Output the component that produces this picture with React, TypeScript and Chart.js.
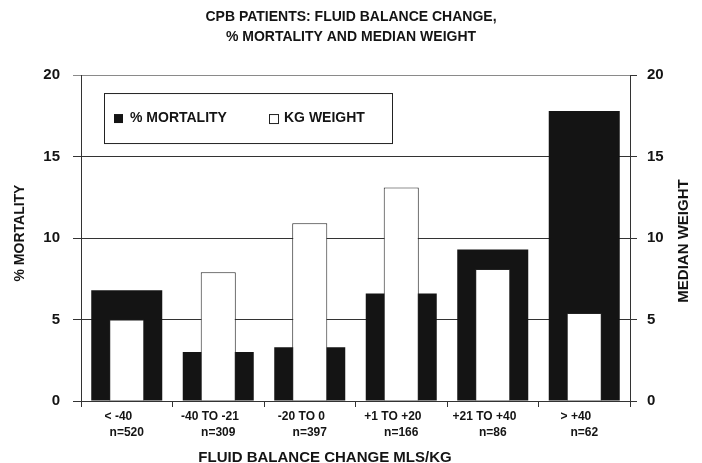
import React, { useEffect, useRef } from "react";
import { Chart, registerables } from "chart.js";

Chart.register(...registerables);

const categories = ["< -40", "-40 TO -21", "-20 TO 0", "+1 TO +20", "+21 TO +40", "> +40"];
const counts = ["n=520", "n=309", "n=397", "n=166", "n=86", "n=62"];
const mortality = [6.8, 3.0, 3.3, 6.6, 9.3, 17.8];
const weight = [5.0, 7.9, 10.9, 13.1, 8.1, 5.4];
const yTicks = [0, 5, 10, 15, 20];
const titleLines = ["CPB PATIENTS: FLUID BALANCE CHANGE,", "% MORTALITY AND MEDIAN WEIGHT"];
const legendLabels = ["% MORTALITY", "KG WEIGHT"];
const xTitle = "FLUID BALANCE CHANGE MLS/KG";
const yTitle = "% MORTALITY";
const y2Title = "MEDIAN WEIGHT";

const FONT = "Arial, 'Liberation Sans', sans-serif";
const INK = "#141414";

const decorPlugin = {
  id: "decor",
  afterDraw(chart: any) {
    const { ctx, chartArea } = chart;
    ctx.save();
    // legend box
    const x0 = chartArea.left + 23;
    const y0 = chartArea.top + 18;
    const w = 288;
    const h = 50;
    ctx.fillStyle = "#ffffff";
    ctx.fillRect(x0, y0, w, h);
    ctx.strokeStyle = "#222";
    ctx.lineWidth = 1;
    ctx.strokeRect(x0 + 0.5, y0 + 0.5, w, h);
    const cy = y0 + 25;
    ctx.fillStyle = INK;
    ctx.fillRect(x0 + 10, cy - 4, 9, 9);
    ctx.font = `bold 14px ${FONT}`;
    ctx.textBaseline = "middle";
    ctx.textAlign = "left";
    ctx.fillText(legendLabels[0], x0 + 26, cy);
    ctx.fillStyle = "#fff";
    ctx.fillRect(x0 + 165, cy - 4, 9, 9);
    ctx.strokeStyle = "#222";
    ctx.strokeRect(x0 + 165.5, cy - 3.5, 9, 9);
    ctx.fillStyle = INK;
    ctx.fillText(legendLabels[1], x0 + 180, cy);

    // axis titles
    const midY = (chartArea.top + chartArea.bottom) / 2;
    ctx.textAlign = "center";
    ctx.textBaseline = "middle";
    ctx.font = `bold 15px ${FONT}`;
    ctx.fillText(xTitle, chartArea.left + 244, chartArea.bottom + 57);

    ctx.save();
    ctx.translate(20, midY - 5);
    ctx.rotate(-Math.PI / 2);
    ctx.font = `bold 14px ${FONT}`;
    ctx.fillText(yTitle, 0, 0);
    ctx.restore();

    ctx.save();
    ctx.translate(chartArea.right + 54, midY + 3);
    ctx.rotate(-Math.PI / 2);
    ctx.font = `bold 15px ${FONT}`;
    ctx.fillText(y2Title, 0, 0);
    ctx.restore();

    ctx.restore();
  },
};

export default function App() {
  const ref = useRef<HTMLCanvasElement>(null);
  useEffect(() => {
    if (!ref.current) return;
    const chart = new Chart(ref.current, {
      type: "bar",
      data: {
        labels: categories,
        datasets: [
          {
            label: legendLabels[1],
            data: weight,
            yAxisID: "y2",
            backgroundColor: "#ffffff",
            borderColor: "#222",
            borderWidth: 1,
            grouped: false,
            order: 0,
            categoryPercentage: 1,
            barPercentage: 0.383,
          },
          {
            label: legendLabels[0],
            data: mortality,
            yAxisID: "y",
            backgroundColor: INK,
            borderWidth: 0,
            grouped: false,
            order: 1,
            categoryPercentage: 1,
            barPercentage: 0.776,
          },
        ],
      },
      options: {
        responsive: false,
        animation: false,
        layout: { padding: 0 },
        plugins: {
          legend: { display: false },
          tooltip: { enabled: false },
          title: {
            display: true,
            text: titleLines,
            color: INK,
            font: { family: FONT, size: 14, weight: "bold", lineHeight: 1.43 },
            padding: { top: 7, bottom: 28 },
          },
        },
        scales: {
          x: {
            offset: true,
            afterFit: (s: any) => {
              s.height = 62;
            },
            grid: {
              display: true,
              drawOnChartArea: false,
              offset: true,
              tickLength: 6,
              color: "#333",
            },
            border: { display: true, color: "#333", width: 1 },
            ticks: {
              color: INK,
              padding: 2,
              maxRotation: 0,
              autoSkip: false,
              font: { family: FONT, size: 12, weight: "bold", lineHeight: 1.33 },
              callback: (_v: any, i: number) => [categories[i] + "     ", counts[i]],
            },
          },
          y: {
            position: "left",
            min: 0,
            max: 20,
            afterFit: (s: any) => {
              s.width = 81;
            },
            afterBuildTicks: (s: any) => {
              s.ticks = yTicks.map((v) => ({ value: v }));
            },
            grid: {
              color: (c: any) => (c.tick && c.tick.value === 20 ? "#8a8a8a" : "#333"),
              tickLength: 8,
              lineWidth: 1,
            },
            border: { display: true, color: "#333", width: 1 },
            ticks: {
              color: INK,
              padding: 13,
              font: { family: FONT, size: 15, weight: "bold" },
            },
          },
          y2: {
            position: "right",
            min: 0,
            max: 20,
            afterFit: (s: any) => {
              s.width = 72;
            },
            afterBuildTicks: (s: any) => {
              s.ticks = yTicks.map((v) => ({ value: v }));
            },
            grid: {
              display: true,
              drawOnChartArea: false,
              tickLength: 7,
              color: "#333",
            },
            border: { display: true, color: "#333", width: 1 },
            ticks: {
              color: INK,
              padding: 10,
              font: { family: FONT, size: 15, weight: "bold" },
            },
          },
        },
      },
      plugins: [decorPlugin],
    } as any);
    return () => chart.destroy();
  }, []);

  return (
    <div style={{ position: "absolute", left: 0, top: 0, width: 702, height: 463, background: "#fff" }}>
      <canvas ref={ref} width={702} height={463} style={{ display: "block", width: 702, height: 463 }} />
    </div>
  );
}
